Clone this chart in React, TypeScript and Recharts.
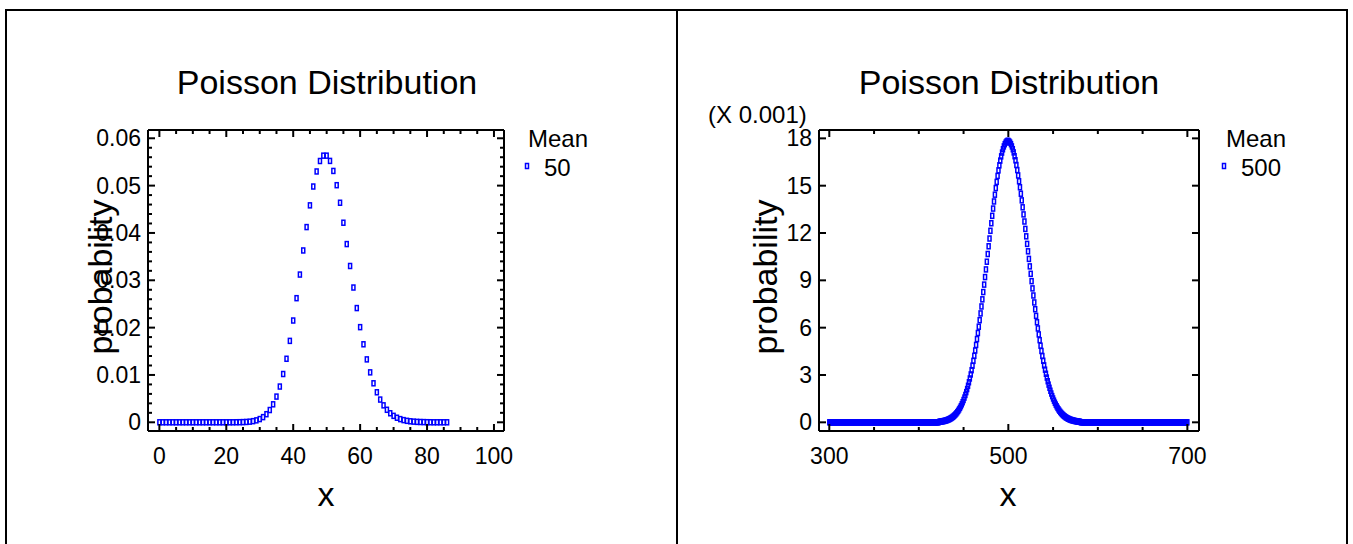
import React from 'react'
import { ScatterChart, Scatter, XAxis, YAxis } from 'recharts'

const FONT = '"Liberation Sans", Arial, Helvetica, sans-serif'
const BLUE = '#0000ff'
const PAGE_W = 1353
const PAGE_H = 544

// Poisson distribution, mean 50: probability for x = 0 .. 86
const leftStartX = 0
const leftProb = [
  0, 0, 0, 0, 0, 0, 0, 0, 0, 0,
  0, 0, 0, 0, 0, 0, 0, 0, 0, 0,
  0, 0, 0, 0.00001, 0.00002, 0.00004, 0.00007, 0.00013, 0.00024, 0.00041,
  0.00068, 0.00109, 0.00171, 0.00259, 0.0038, 0.00543, 0.00755, 0.0102, 0.01342, 0.0172,
  0.0215, 0.02622, 0.03121, 0.0363, 0.04124, 0.04583, 0.04981, 0.05299, 0.0552, 0.05633,
  0.05633, 0.05522, 0.0531, 0.05009, 0.04638, 0.04216, 0.03765, 0.03302, 0.02847, 0.02413,
  0.0201, 0.01648, 0.01329, 0.01055, 0.00824, 0.00634, 0.0048, 0.00358, 0.00264, 0.00191,
  0.00136, 0.00096, 0.00067, 0.00046, 0.00031, 0.00021, 0.00014, 0.00009, 0.00006, 0.00004,
  0.00002, 0.00001, 0, 0, 0, 0, 0,
]

// Poisson distribution, mean 500: probability (X 0.001) for x = 300 .. 700
const rightStartX = 300
const rightProb = [
  0, 0, 0, 0, 0, 0, 0, 0, 0, 0, // 300
  0, 0, 0, 0, 0, 0, 0, 0, 0, 0,
  0, 0, 0, 0, 0, 0, 0, 0, 0, 0,
  0, 0, 0, 0, 0, 0, 0, 0, 0, 0,
  0, 0, 0, 0, 0, 0, 0, 0, 0, 0, // 340
  0, 0, 0, 0, 0, 0, 0, 0, 0, 0,
  0, 0, 0, 0, 0, 0, 0, 0, 0, 0,
  0, 0, 0, 0, 0, 0, 0, 0, 0, 0,
  0, 0, 0, 0, 0, 0, 0, 0, 0, 0, // 380
  0, 0, 0, 0, 0, 0, 0, 0, 0, 0,
  0, 0, 0, 0, 0, 0, 0, 0, 0, 0,
  0, 0, 0, 0, 0, 0, 0, 0, 0, 0,
  0, 0, 0, // 420
  0.037, 0.044, 0.052, 0.061, 0.071, 0.083, 0.096, 0.112, 0.13, 0.151, // 423
  0.174, 0.2, 0.23, 0.264, 0.302, 0.345, 0.392, 0.446, 0.506, 0.572,
  0.646, 0.727, 0.817, 0.916, 1.024, 1.143, 1.273, 1.414, 1.568, 1.734,
  1.914, 2.108, 2.317, 2.54, 2.779, 3.034, 3.305, 3.592, 3.896, 4.216,
  4.553, 4.906, 5.276, 5.661, 6.061, 6.475, 6.903, 7.344, 7.796, 8.258,
  8.73, 9.208, 9.693, 10.18, 10.67, 11.16, 11.65, 12.14, 12.62, 13.09,
  13.55, 14.0, 14.43, 14.85, 15.24, 15.62, 15.97, 16.29, 16.59, 16.86,
  17.1, 17.31, 17.49, 17.63, 17.73, 17.8, 17.84, // 493
  17.84, // 500
  17.8, 17.73, 17.63, 17.49, 17.31, 17.11, 16.87, 16.61, 16.31, 15.99, // 501
  15.65, 15.28, 14.9, 14.49, 14.07, 13.63, 13.18, 12.73, 12.26, 11.79,
  11.31, 10.84, 10.36, 9.885, 9.414, 8.949, 8.49, 8.04, 7.599, 7.169,
  6.75, 6.344, 5.951, 5.572, 5.208, 4.858, 4.523, 4.204, 3.9, 3.611,
  3.337, 3.079, 2.835, 2.606, 2.39, 2.189, 2.001, 1.825, 1.662, 1.512,
  1.372, 1.242, 1.123, 1.014, 0.913, 0.821, 0.737, 0.66, 0.591, 0.527,
  0.47, 0.418, 0.371, 0.329, 0.291, 0.257, 0.227, 0.2, 0.175, 0.154,
  0.135, 0.118, 0.103, 0.09, 0.078, 0.068, 0.059, 0.051, 0.044, 0.038,
  0, 0, 0, 0, 0, 0, 0, 0, 0, 0, // 581
  0, 0, 0, 0, 0, 0, 0, 0, 0, 0,
  0, 0, 0, 0, 0, 0, 0, 0, 0, 0,
  0, 0, 0, 0, 0, 0, 0, 0, 0, 0,
  0, 0, 0, 0, 0, 0, 0, 0, 0, 0,
  0, 0, 0, 0, 0, 0, 0, 0, 0, 0,
  0, 0, 0, 0, 0, 0, 0, 0, 0, 0,
  0, 0, 0, 0, 0, 0, 0, 0, 0, 0,
  0, 0, 0, 0, 0, 0, 0, 0, 0, 0,
  0, 0, 0, 0, 0, 0, 0, 0, 0, 0,
  0, 0, 0, 0, 0, 0, 0, 0, 0, 0,
  0, 0, 0, 0, 0, 0, 0, 0, 0, 0,
]

// axis ticks
const leftXMajor = [0, 20, 40, 60, 80, 100]
const leftXMinor = [5, 10, 15, 25, 30, 35, 45, 50, 55, 65, 70, 75, 85, 90, 95]
const leftYMajor = [0, 0.01, 0.02, 0.03, 0.04, 0.05, 0.06]
const leftYMinor = [
  0.002, 0.004, 0.006, 0.008, 0.012, 0.014, 0.016, 0.018,
  0.022, 0.024, 0.026, 0.028, 0.032, 0.034, 0.036, 0.038,
  0.042, 0.044, 0.046, 0.048, 0.052, 0.054, 0.056, 0.058,
]
const rightXMajor = [300, 500, 700]
const rightXMinor = [350, 400, 450, 550, 600, 650]
const rightYMajor = [0, 3, 6, 9, 12, 15, 18]
const rightYMinor: number[] = []

type Pt = { x: number; y: number }
const toPoints = (start: number, values: number[]): Pt[] =>
  values.map((y, i) => ({ x: start + i, y }))

const isIn = (list: number[], v: number) => list.some(m => Math.abs(m - v) < 1e-9)

const Marker = (props: any) => {
  const { cx, cy } = props
  if (cx == null || cy == null) return null
  return <rect x={cx - 1.5} y={cy - 2.5} width={3} height={5} fill="none" stroke={BLUE} strokeWidth={1.5} />
}

const TICK_FONT = 23
const MAJOR = 7
const MINOR = 4

type PanelProps = {
  data: Pt[]
  width: number
  margin: { top: number; right: number; bottom: number; left: number }
  xDomain: [number, number]
  yDomain: [number, number]
  xMajor: number[]
  xMinor: number[]
  yMajor: number[]
  yMinor: number[]
}

function Panel(p: PanelProps) {
  const xTicks = [...p.xMajor, ...p.xMinor]
  const yTicks = [...p.yMajor, ...p.yMinor]
  const axisLine = { stroke: '#000', strokeWidth: 2 }

  const bottomTick = (t: any) => {
    const major = isIn(p.xMajor, t.payload.value)
    return (
      <g>
        <line x1={t.x} x2={t.x} y1={t.y} y2={t.y - (major ? MAJOR : MINOR)} stroke="#000" strokeWidth={2} />
        {major && (
          <text x={t.x} y={t.y + 33} textAnchor="middle" fontSize={TICK_FONT} fontFamily={FONT} fill="#000">
            {t.payload.value}
          </text>
        )}
      </g>
    )
  }
  const topTick = (t: any) => {
    const major = isIn(p.xMajor, t.payload.value)
    return <line x1={t.x} x2={t.x} y1={t.y} y2={t.y + (major ? MAJOR : MINOR)} stroke="#000" strokeWidth={2} />
  }
  const leftTick = (t: any) => {
    const major = isIn(p.yMajor, t.payload.value)
    return (
      <g>
        <line x1={t.x} x2={t.x + (major ? MAJOR : MINOR)} y1={t.y} y2={t.y} stroke="#000" strokeWidth={2} />
        {major && (
          <text x={t.x - 7} y={t.y + 8} textAnchor="end" fontSize={TICK_FONT} fontFamily={FONT} fill="#000">
            {t.payload.value}
          </text>
        )}
      </g>
    )
  }
  const rightTick = (t: any) => {
    const major = isIn(p.yMajor, t.payload.value)
    return <line x1={t.x} x2={t.x - (major ? MAJOR : MINOR)} y1={t.y} y2={t.y} stroke="#000" strokeWidth={2} />
  }

  return (
    <ScatterChart width={p.width} height={PAGE_H} margin={p.margin}>
      <XAxis xAxisId="b" dataKey="x" type="number" orientation="bottom" domain={p.xDomain} allowDataOverflow
        ticks={xTicks} interval={0} height={1} tickSize={0} tickMargin={0} tickLine={false} axisLine={axisLine} tick={bottomTick} />
      <XAxis xAxisId="t" dataKey="x" type="number" orientation="top" domain={p.xDomain} allowDataOverflow
        ticks={xTicks} interval={0} height={1} tickSize={0} tickMargin={0} tickLine={false} axisLine={axisLine} tick={topTick} />
      <YAxis yAxisId="l" dataKey="y" type="number" orientation="left" domain={p.yDomain} allowDataOverflow
        ticks={yTicks} interval={0} width={1} tickSize={0} tickMargin={0} tickLine={false} axisLine={axisLine} tick={leftTick} />
      <YAxis yAxisId="r" dataKey="y" type="number" orientation="right" domain={p.yDomain} allowDataOverflow
        ticks={yTicks} interval={0} width={1} tickSize={0} tickMargin={0} tickLine={false} axisLine={axisLine} tick={rightTick} />
      <Scatter data={p.data} xAxisId="b" yAxisId="l" shape={Marker} isAnimationActive={false} />
    </ScatterChart>
  )
}

export default function App() {
  const leftData = toPoints(leftStartX, leftProb)
  const rightData = toPoints(rightStartX, rightProb)

  return (
    <div style={{ position: 'fixed', left: 0, top: 0, width: PAGE_W, height: PAGE_H, background: '#fff', overflow: 'hidden' }}>
      <div style={{ position: 'absolute', left: 0, top: 0 }}>
        <Panel
          data={leftData}
          width={677}
          margin={{ top: 129, right: 172, bottom: 112, left: 147 }}
          xDomain={[-3.4, 103]}
          yDomain={[-0.00184, 0.06175]}
          xMajor={leftXMajor}
          xMinor={leftXMinor}
          yMajor={leftYMajor}
          yMinor={leftYMinor}
        />
      </div>
      <div style={{ position: 'absolute', left: 677, top: 0 }}>
        <Panel
          data={rightData}
          width={676}
          margin={{ top: 129, right: 153, bottom: 112, left: 141 }}
          xDomain={[288.5, 713]}
          yDomain={[-0.55, 18.53]}
          xMajor={rightXMajor}
          xMinor={rightXMinor}
          yMajor={rightYMajor}
          yMinor={rightYMinor}
        />
      </div>

      {/* panel frames */}
      <div style={{ position: 'absolute', left: 5, top: 9, width: 1343, height: 600, border: '2px solid #000', boxSizing: 'border-box' }} />
      <div style={{ position: 'absolute', left: 676, top: 9, width: 2, height: 600, background: '#000' }} />

      <svg width={PAGE_W} height={PAGE_H} style={{ position: 'absolute', left: 0, top: 0, pointerEvents: 'none' }} fontFamily={FONT} fill="#000">
        <text x={327} y={94} fontSize={34} textAnchor="middle">Poisson Distribution</text>
        <text x={326} y={506} fontSize={34} textAnchor="middle">x</text>
        <text x={112} y={277} fontSize={34} textAnchor="middle" transform="rotate(-90 112 277)">probability</text>
        <text x={528} y={147} fontSize={24}>Mean</text>
        <rect x={525.5} y={163.5} width={3} height={5} fill="none" stroke={BLUE} strokeWidth={1.5} />
        <text x={544} y={176} fontSize={24}>50</text>

        <text x={1009} y={94} fontSize={34} textAnchor="middle">Poisson Distribution</text>
        <text x={1008} y={506} fontSize={34} textAnchor="middle">x</text>
        <text x={777} y={277} fontSize={34} textAnchor="middle" transform="rotate(-90 777 277)">probability</text>
        <text x={708} y={123} fontSize={24}>(X 0.001)</text>
        <text x={1226} y={147} fontSize={24}>Mean</text>
        <rect x={1222.5} y={163.5} width={3} height={5} fill="none" stroke={BLUE} strokeWidth={1.5} />
        <text x={1241} y={176} fontSize={24}>500</text>
      </svg>
    </div>
  )
}
